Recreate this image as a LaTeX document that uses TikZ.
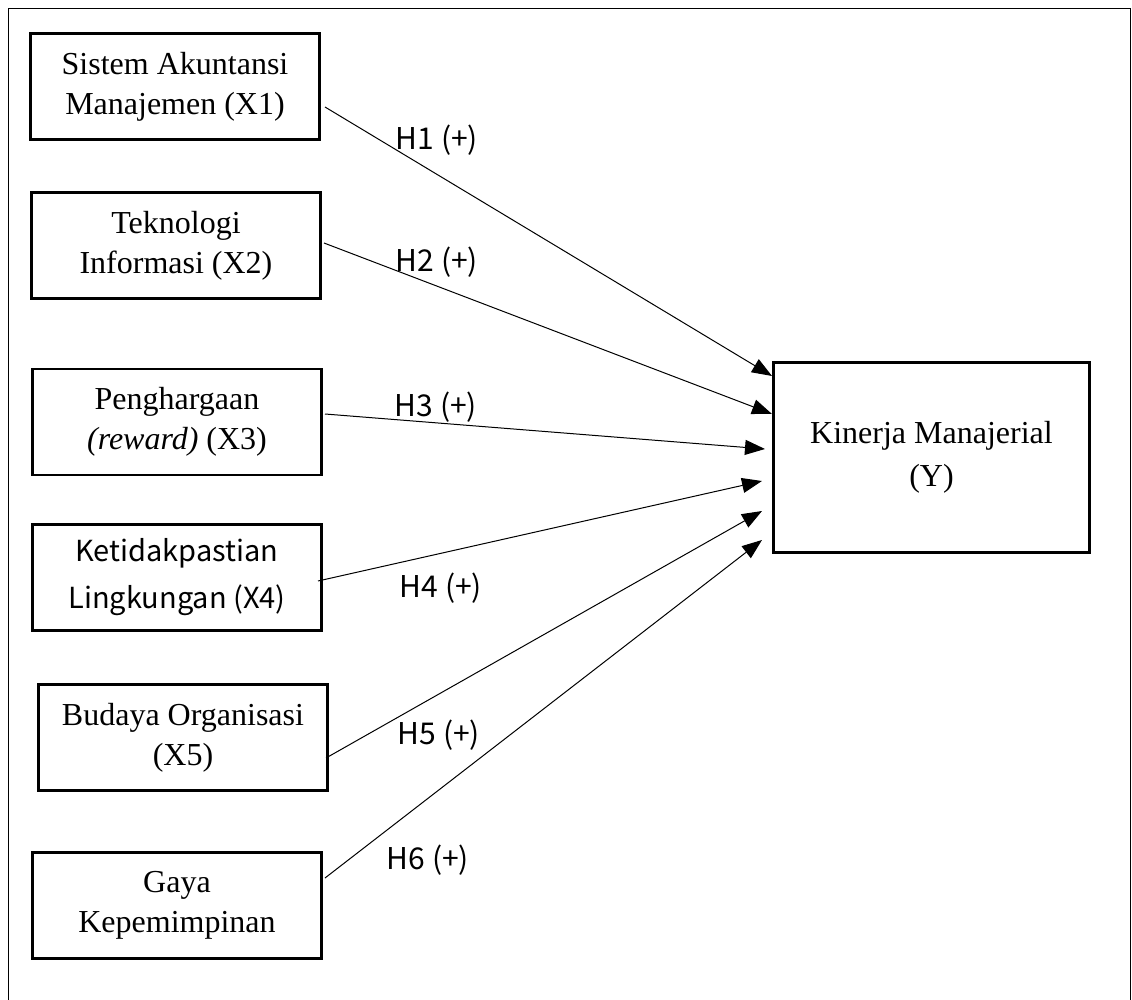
\documentclass[tikz,border=0pt]{standalone}
\usepackage{fontspec}
\setmainfont{Liberation Serif}
\newfontfamily\lblfont{Noto Sans CJK SC}
\usetikzlibrary{arrows.meta}
\begin{document}
\begin{tikzpicture}[x=1pt,y=-1pt,
  varbox/.style={draw,line width=2.6pt,rectangle,inner sep=0pt,
    minimum width=289pt,minimum height=106pt,align=center,
    font=\fontsize{32}{40}\selectfont},
  ybox/.style={draw,line width=2.6pt,rectangle,inner sep=0pt,
    minimum width=316pt,minimum height=190pt,align=center,
    font=\fontsize{32}{43}\selectfont},
  arr/.style={line width=1pt,-{Triangle[length=20pt,width=15pt]}},
  hlbl/.style={font=\lblfont\fontsize{30}{32}\selectfont,inner sep=0pt}]
\useasboundingbox (0,0) rectangle (1132,1000);
\draw[line width=1pt] (8,1000) -- (8,9) -- (1130.5,9) -- (1130.5,1000);
\node[varbox] (x1) at (175,86.5) {Sistem Akuntansi\\Manajemen (X1)};
\node[varbox] (x2) at (176,245.5) {Teknologi\\Informasi (X2)};
\node[varbox] (x3) at (177,422) {Penghargaan\\\textit{(reward)} (X3)};
\node[varbox,font=\lblfont\fontsize{29}{47}\selectfont] (x4) at (177,577.5) {Ketidakpastian\\Lingkungan (X4)};
\node[varbox] (x5) at (183,737.5) {Budaya Organisasi\\(X5)};
\node[varbox] (x6) at (177,905.5) {Gaya\\Kepemimpinan};
\node[ybox] (y) at (931.5,457.5) {Kinerja Manajerial\\(Y)};
\coordinate (s1) at (325,107);
\coordinate (s2) at (324,243);
\coordinate (s3) at (325,414);
\coordinate (s4) at (318,581);
\coordinate (s5) at (326,758);
\coordinate (s6) at (325,878);
\coordinate (t1) at (772,376);
\coordinate (t2) at (772,414);
\coordinate (t3) at (765,449);
\coordinate (t4) at (762,481);
\coordinate (t5) at (762,511);
\coordinate (t6) at (762,540);
\draw[arr] (s1) -- (t1);
\draw[arr] (s2) -- (t2);
\draw[arr] (s3) -- (t3);
\draw[arr] (s4) -- (t4);
\draw[arr] (s5) -- (t5);
\draw[arr] (s6) -- (t6);
\node[hlbl] (h1) at (437,140) {H1 (+)};
\node[hlbl] (h2) at (437,262) {H2 (+)};
\node[hlbl] (h3) at (436,407) {H3 (+)};
\node[hlbl] (h4) at (441,588) {H4 (+)};
\node[hlbl] (h5) at (439,735) {H5 (+)};
\node[hlbl] (h6) at (428,860) {H6 (+)};
\end{tikzpicture}
\end{document}
